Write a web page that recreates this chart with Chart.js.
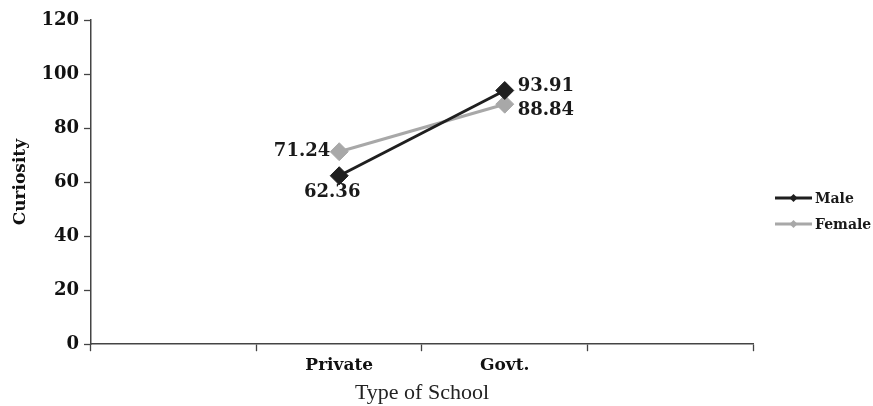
<!DOCTYPE html>
<html>
<head>
<meta charset="utf-8">
<title>Curiosity by Type of School</title>
<script src="https://cdn.jsdelivr.net/npm/chart.js@4.4.0/dist/chart.umd.min.js"></script>
<style>
  html, body { margin: 0; padding: 0; background: #fff; }
  #wrap { width: 873px; height: 406px; }
</style>
</head>
<body>
<div id="wrap"><canvas id="curiosityChart" width="873" height="406"></canvas></div>
<script>
// x categories (the empty ones just pad the axis on both sides)
const schoolTypes = ['', 'Private', 'Govt.', ''];
const maleScores = [null, 62.36, 93.91, null];
const femaleScores = [null, 71.24, 88.84, null];
const yTicks = [0, 20, 40, 60, 80, 100, 120];

const boldSerif = { family: '"DejaVu Serif", serif', weight: 'bold' };

// where each value label sits next to its point: [dx, dy, align]
const labelSpots = [
  [null, [-7, 17, 'center'], [13, -4, 'left'], null],   // Male
  [null, [-9, 0, 'right'], [13, 6, 'left'], null]       // Female
];

// value labels next to the points
const valueLabels = {
  id: 'valueLabels',
  afterDatasetsDraw(chart) {
    const ctx = chart.ctx;
    ctx.save();
    ctx.font = 'bold 18px "DejaVu Serif", serif';
    ctx.fillStyle = '#1a1a1a';
    ctx.textBaseline = 'middle';
    chart.data.datasets.forEach((ds, i) => {
      chart.getDatasetMeta(i).data.forEach((pt, j) => {
        const spot = labelSpots[i][j];
        if (ds.data[j] == null || !spot) return;
        ctx.textAlign = spot[2];
        ctx.fillText(ds.data[j].toFixed(2), pt.x + spot[0], pt.y + spot[1]);
      });
    });
    ctx.restore();
  }
};

// legend on the right: short line with a small diamond, then the name
const sideLegend = {
  id: 'sideLegend',
  afterDraw(chart) {
    const ctx = chart.ctx;
    const area = chart.chartArea;
    const x0 = area.right + 22;
    ctx.save();
    ctx.font = 'bold 14px "DejaVu Serif", serif';
    ctx.textBaseline = 'middle';
    ctx.textAlign = 'left';
    chart.data.datasets.forEach((ds, i) => {
      const y = area.top + 178 + i * 26;
      ctx.strokeStyle = ds.borderColor;
      ctx.lineWidth = 3;
      ctx.beginPath();
      ctx.moveTo(x0, y);
      ctx.lineTo(x0 + 37, y);
      ctx.stroke();
      ctx.fillStyle = ds.borderColor;
      ctx.beginPath();
      ctx.moveTo(x0 + 18.5, y - 4);
      ctx.lineTo(x0 + 22.5, y);
      ctx.lineTo(x0 + 18.5, y + 4);
      ctx.lineTo(x0 + 14.5, y);
      ctx.closePath();
      ctx.fill();
      ctx.fillStyle = '#1a1a1a';
      ctx.fillText(ds.label, x0 + 40, y + 1);
    });
    ctx.restore();
  }
};

const ctx = document.getElementById('curiosityChart').getContext('2d');

new Chart(ctx, {
  type: 'line',
  data: {
    labels: schoolTypes,
    datasets: [{
      label: 'Male',
      data: maleScores,
      borderColor: '#1f1f1f',
      backgroundColor: '#1f1f1f',
      borderWidth: 3,
      pointStyle: 'rectRot',
      pointRadius: 9,
      pointBorderWidth: 1
    }, {
      label: 'Female',
      data: femaleScores,
      borderColor: '#a8a8a8',
      backgroundColor: '#a8a8a8',
      borderWidth: 3,
      pointStyle: 'rectRot',
      pointRadius: 9,
      pointBorderWidth: 1
    }]
  },
  plugins: [valueLabels, sideLegend],
  options: {
    responsive: false,
    animation: false,
    layout: { padding: { top: 20, right: 120, left: 10, bottom: 0 } },
    plugins: {
      legend: { display: false },
      tooltip: { enabled: false }
    },
    scales: {
      x: {
        offset: true,
        grid: {
          offset: true,
          drawOnChartArea: false,
          tickLength: 7,
          tickWidth: 1.3,
          tickColor: '#444'
        },
        border: { color: '#444', width: 1.5 },
        ticks: {
          color: '#111',
          padding: 4,
          font: { ...boldSerif, size: 17 }
        },
        title: {
          display: true,
          text: 'Type of School',
          color: '#222',
          padding: { top: 0, bottom: 0 },
          font: { family: '"Liberation Serif", serif', size: 22 }
        }
      },
      y: {
        min: 0,
        max: 120,
        afterBuildTicks(scale) {
          scale.ticks = yTicks.map(v => ({ value: v }));
        },
        grid: {
          drawOnChartArea: false,
          tickLength: 7,
          tickWidth: 1.3,
          tickColor: '#444'
        },
        border: { color: '#444', width: 1.5 },
        ticks: {
          color: '#111',
          padding: 5,
          font: { ...boldSerif, size: 18 }
        },
        title: {
          display: true,
          text: 'Curiosity',
          color: '#111',
          padding: { top: 0, bottom: 6 },
          font: { ...boldSerif, size: 17 }
        }
      }
    }
  }
});
</script>
</body>
</html>
